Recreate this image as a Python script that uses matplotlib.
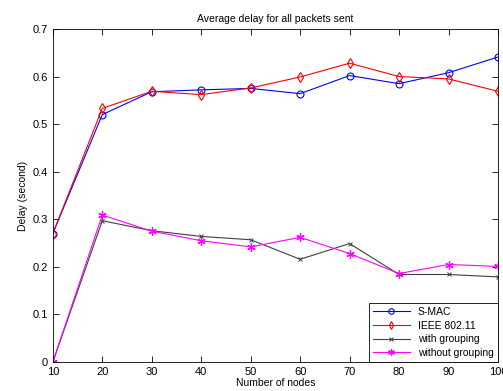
import numpy as np
import matplotlib.pyplot as plt

plt.rcParams['font.family'] = ['Liberation Sans', 'DejaVu Sans']

nodes = [10, 20, 30, 40, 50, 60, 70, 80, 90, 100]
smac = [0.27, 0.52, 0.568, 0.572, 0.575, 0.564, 0.602, 0.585, 0.608, 0.641]
ieee = [0.27, 0.533, 0.569, 0.562, 0.576, 0.599, 0.628, 0.600, 0.595, 0.569]
with_grp = [0.0, 0.297, 0.276, 0.264, 0.257, 0.216, 0.249, 0.184, 0.184, 0.179]
without_grp = [0.0, 0.309, 0.275, 0.255, 0.242, 0.262, 0.228, 0.186, 0.205, 0.201]

fig = plt.figure(figsize=(5.03, 3.91), dpi=100)
ax = fig.add_axes([0.105, 0.074, 0.885, 0.852])

ax.plot(nodes, smac, color='blue', marker='o', mfc='none', ms=5, lw=0.8, mew=0.8, label='S-MAC')
ax.plot(nodes, ieee, color='red', marker='d', mfc='none', ms=5, lw=0.8, mew=0.8, label='IEEE 802.11')
ax.plot(nodes, with_grp, color='#404040', marker='x', ms=3.5, lw=0.8, mew=0.7, label='with grouping')
ax.plot(nodes, without_grp, color='magenta', marker=(6, 2, 0), ms=6, lw=0.8, mew=0.9, label='without grouping')

ax.set_xlim(10, 100)
ax.set_ylim(0, 0.7)
ax.set_xticks(nodes)
ax.set_yticks([0, 0.1, 0.2, 0.3, 0.4, 0.5, 0.6, 0.7])
ax.set_yticklabels(['0', '0.1', '0.2', '0.3', '0.4', '0.5', '0.6', '0.7'])
ax.tick_params(direction='in', top=True, right=True, labelsize=8, length=4, width=0.6)
for s in ax.spines.values():
    s.set_linewidth(0.6)

ax.set_title('Average delay for all packets sent', fontsize=7.5, pad=5)
ax.set_xlabel('Number of nodes', fontsize=7.5, labelpad=1)
ax.set_ylabel('Delay (second)', fontsize=7.5, labelpad=3)

leg = ax.legend(loc='lower right', fontsize=7.5, fancybox=False, framealpha=1,
                borderaxespad=0, handlelength=3.5, labelspacing=0.35, borderpad=0.4,
                markerscale=0.8)
leg.get_frame().set_edgecolor('black')
leg.get_frame().set_linewidth(0.6)

fig.savefig('out.png', dpi=100)
